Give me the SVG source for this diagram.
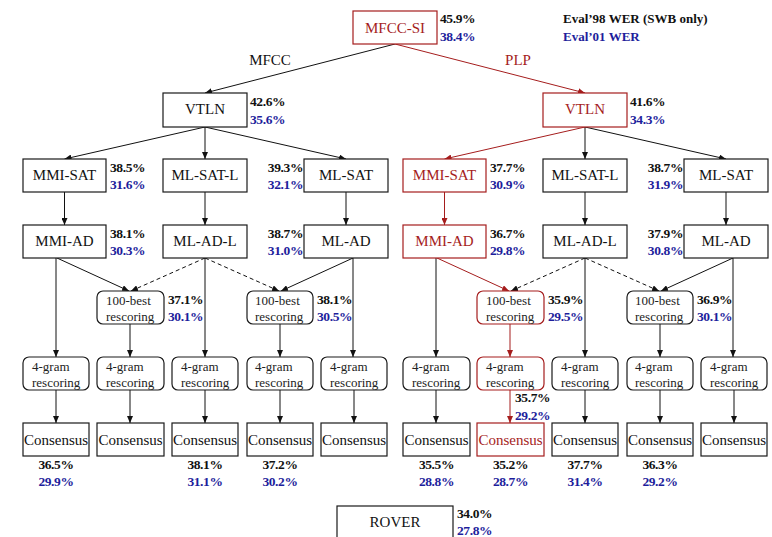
<svg xmlns="http://www.w3.org/2000/svg" width="772" height="537" viewBox="0 0 772 537">
<defs>
<style>
.box{fill:#fff;stroke:#1a1a1a;stroke-width:1.2}
.red{stroke:#a51d1d}
.t{font-family:"Liberation Serif","Times New Roman",serif;font-size:15px;fill:#111;text-anchor:middle}
.tr{fill:#a51d1d}
.s{font-family:"Liberation Serif","Times New Roman",serif;font-size:13px;fill:#222}
.p{font-family:"Liberation Serif","Times New Roman",serif;font-weight:bold;font-size:13.5px;letter-spacing:-0.4px;fill:#111}
.lg{font-family:"Liberation Serif","Times New Roman",serif;font-weight:bold;font-size:13px;fill:#111}
.b{fill:#1e1e9c}
.m{text-anchor:middle}
.en{text-anchor:end}
.e{stroke:#111;stroke-width:1;fill:none;marker-end:url(#ah)}
.er{stroke:#a51d1d;stroke-width:1;fill:none;marker-end:url(#ahr)}
.d{stroke-dasharray:4 3}
</style>
<marker id="ah" markerUnits="userSpaceOnUse" markerWidth="7" markerHeight="6" refX="7" refY="3" orient="auto"><path d="M0,0 L7,3 L0,6 z" fill="#111"/></marker>
<marker id="ahr" markerUnits="userSpaceOnUse" markerWidth="7" markerHeight="6" refX="7" refY="3" orient="auto"><path d="M0,0 L7,3 L0,6 z" fill="#a51d1d"/></marker>
</defs>
<rect width="772" height="537" fill="#fff"/>

<g id="connectors">
<line class="e" x1="395" y1="44" x2="205" y2="93"/>
<line class="er" x1="395" y1="44" x2="585" y2="93"/>
<text class="t" x="270" y="65" font-size="14.5">MFCC</text>
<text class="t tr" x="518" y="65" font-size="14.5">PLP</text>

<line class="e" x1="205" y1="127" x2="64.5" y2="159"/>
<line class="e" x1="205" y1="127" x2="205" y2="159"/>
<line class="e" x1="205" y1="127" x2="346" y2="159"/>
<line class="er" x1="585" y1="127" x2="444.5" y2="159"/>
<line class="e" x1="585" y1="127" x2="585" y2="159"/>
<line class="e" x1="585" y1="127" x2="726" y2="159"/>

<line class="e" x1="64.5" y1="192" x2="64.5" y2="225"/>
<line class="e" x1="205" y1="192" x2="205" y2="225"/>
<line class="e" x1="346" y1="192" x2="346" y2="225"/>
<line class="er" x1="444.5" y1="192" x2="444.5" y2="225"/>
<line class="e" x1="585" y1="192" x2="585" y2="225"/>
<line class="e" x1="726" y1="192" x2="726" y2="225"/>

<line class="e" x1="56" y1="258" x2="56" y2="357"/>
<line class="e" x1="57" y1="258" x2="129" y2="291"/>
<line class="e d" x1="205" y1="258" x2="131" y2="291"/>
<line class="e" x1="205" y1="258" x2="205" y2="357"/>
<line class="e d" x1="205" y1="258" x2="279" y2="291"/>
<line class="e" x1="353" y1="258" x2="281" y2="291"/>
<line class="e" x1="353" y1="258" x2="353" y2="357"/>

<line class="e" x1="436" y1="258" x2="436" y2="357"/>
<line class="er" x1="437" y1="258" x2="509" y2="291"/>
<line class="e d" x1="585" y1="258" x2="511" y2="291"/>
<line class="e" x1="585" y1="258" x2="585" y2="357"/>
<line class="e d" x1="585" y1="258" x2="659" y2="291"/>
<line class="e" x1="733" y1="258" x2="661" y2="291"/>
<line class="e" x1="733" y1="258" x2="733" y2="357"/>

<line class="e" x1="130" y1="324" x2="130" y2="357"/>
<line class="e" x1="280" y1="324" x2="280" y2="357"/>
<line class="er" x1="510" y1="324" x2="510" y2="357"/>
<line class="e" x1="660" y1="324" x2="660" y2="357"/>

<line class="e" x1="56" y1="390" x2="56" y2="423"/>
<line class="e" x1="130" y1="390" x2="130" y2="423"/>
<line class="e" x1="205" y1="390" x2="205" y2="423"/>
<line class="e" x1="280" y1="390" x2="280" y2="423"/>
<line class="e" x1="354" y1="390" x2="354" y2="423"/>
<line class="e" x1="436" y1="390" x2="436" y2="423"/>
<line class="er" x1="510" y1="390" x2="510" y2="423"/>
<line class="e" x1="585" y1="390" x2="585" y2="423"/>
<line class="e" x1="660" y1="390" x2="660" y2="423"/>
<line class="e" x1="734" y1="390" x2="734" y2="423"/>
<text class="p" x="515" y="402">35.7%</text>
<text class="p b" x="515" y="420">29.2%</text>
</g>

<g id="legend">
<text class="lg" x="563" y="23">Eval’98 WER (SWB only)</text>
<text class="lg b" x="563" y="41">Eval’01 WER</text>
</g>

<g id="mfcc-si">
<rect class="box red" x="353" y="11" width="84" height="33"/>
<text class="t tr" x="395" y="33">MFCC-SI</text>
<text class="p" x="440" y="23">45.9%</text>
<text class="p b" x="440" y="41">38.4%</text>
</g>

<g id="vtln-mfcc">
<rect class="box" x="163" y="93" width="84" height="34"/>
<text class="t" x="205" y="114">VTLN</text>
<text class="p" x="250" y="106">42.6%</text>
<text class="p b" x="250" y="124">35.6%</text>
</g>
<g id="vtln-plp">
<rect class="box red" x="543" y="93" width="84" height="34"/>
<text class="t tr" x="585" y="114">VTLN</text>
<text class="p" x="630" y="106">41.6%</text>
<text class="p b" x="630" y="124">34.3%</text>
</g>

<g id="mmi-sat-1">
<rect class="box" x="23" y="159" width="83" height="33"/>
<text class="t" x="64.5" y="180">MMI-SAT</text>
<text class="p" x="110" y="172">38.5%</text>
<text class="p b" x="110" y="189">31.6%</text>
</g>
<g id="ml-sat-l-1">
<rect class="box" x="163" y="159" width="84" height="33"/>
<text class="t" x="205" y="180">ML-SAT-L</text>
</g>
<g id="ml-sat-1">
<rect class="box" x="304" y="159" width="84" height="33"/>
<text class="t" x="346" y="180">ML-SAT</text>
<text class="p en" x="303" y="172">39.3%</text>
<text class="p b en" x="303" y="189">32.1%</text>
</g>
<g id="mmi-sat-2">
<rect class="box red" x="403" y="159" width="83" height="33"/>
<text class="t tr" x="444.5" y="180">MMI-SAT</text>
<text class="p" x="490" y="172">37.7%</text>
<text class="p b" x="490" y="189">30.9%</text>
</g>
<g id="ml-sat-l-2">
<rect class="box" x="543" y="159" width="84" height="33"/>
<text class="t" x="585" y="180">ML-SAT-L</text>
</g>
<g id="ml-sat-2">
<rect class="box" x="684" y="159" width="84" height="33"/>
<text class="t" x="726" y="180">ML-SAT</text>
<text class="p en" x="683" y="172">38.7%</text>
<text class="p b en" x="683" y="189">31.9%</text>
</g>

<g id="mmi-ad-1">
<rect class="box" x="23" y="225" width="83" height="33"/>
<text class="t" x="64.5" y="246">MMI-AD</text>
<text class="p" x="110" y="238">38.1%</text>
<text class="p b" x="110" y="255">30.3%</text>
</g>
<g id="ml-ad-l-1">
<rect class="box" x="163" y="225" width="84" height="33"/>
<text class="t" x="205" y="246">ML-AD-L</text>
</g>
<g id="ml-ad-1">
<rect class="box" x="304" y="225" width="84" height="33"/>
<text class="t" x="346" y="246">ML-AD</text>
<text class="p en" x="303" y="238">38.7%</text>
<text class="p b en" x="303" y="255">31.0%</text>
</g>
<g id="mmi-ad-2">
<rect class="box red" x="403" y="225" width="83" height="33"/>
<text class="t tr" x="444.5" y="246">MMI-AD</text>
<text class="p" x="490" y="238">36.7%</text>
<text class="p b" x="490" y="255">29.8%</text>
</g>
<g id="ml-ad-l-2">
<rect class="box" x="543" y="225" width="84" height="33"/>
<text class="t" x="585" y="246">ML-AD-L</text>
</g>
<g id="ml-ad-2">
<rect class="box" x="684" y="225" width="84" height="33"/>
<text class="t" x="726" y="246">ML-AD</text>
<text class="p en" x="683" y="238">37.9%</text>
<text class="p b en" x="683" y="255">30.8%</text>
</g>

<g id="nbest-1">
<rect class="box" x="97" y="291" width="67" height="33" rx="6"/>
<text class="s" x="106" y="305">100-best</text>
<text class="s" x="106" y="321">rescoring</text>
<text class="p" x="168" y="304">37.1%</text>
<text class="p b" x="168" y="321">30.1%</text>
</g>
<g id="nbest-2">
<rect class="box" x="247" y="291" width="66" height="33" rx="6"/>
<text class="s" x="255" y="305">100-best</text>
<text class="s" x="255" y="321">rescoring</text>
<text class="p" x="317" y="304">38.1%</text>
<text class="p b" x="317" y="321">30.5%</text>
</g>
<g id="nbest-3">
<rect class="box red" x="477" y="291" width="67" height="33" rx="6"/>
<text class="s tr" x="486" y="305">100-best</text>
<text class="s tr" x="486" y="321">rescoring</text>
<text class="p" x="548" y="304">35.9%</text>
<text class="p b" x="548" y="321">29.5%</text>
</g>
<g id="nbest-4">
<rect class="box" x="627" y="291" width="66" height="33" rx="6"/>
<text class="s" x="635" y="305">100-best</text>
<text class="s" x="635" y="321">rescoring</text>
<text class="p" x="697" y="304">36.9%</text>
<text class="p b" x="697" y="321">30.1%</text>
</g>

<g id="fourgram-1"><rect class="box" x="23" y="357" width="66" height="33" rx="6"/><text class="s" x="32" y="371">4-gram</text><text class="s" x="32" y="387">rescoring</text></g>
<g id="fourgram-2"><rect class="box" x="97" y="357" width="67" height="33" rx="6"/><text class="s" x="106" y="371">4-gram</text><text class="s" x="106" y="387">rescoring</text></g>
<g id="fourgram-3"><rect class="box" x="172" y="357" width="66" height="33" rx="6"/><text class="s" x="181" y="371">4-gram</text><text class="s" x="181" y="387">rescoring</text></g>
<g id="fourgram-4"><rect class="box" x="247" y="357" width="66" height="33" rx="6"/><text class="s" x="255" y="371">4-gram</text><text class="s" x="255" y="387">rescoring</text></g>
<g id="fourgram-5"><rect class="box" x="321" y="357" width="66" height="33" rx="6"/><text class="s" x="330" y="371">4-gram</text><text class="s" x="330" y="387">rescoring</text></g>
<g id="fourgram-6"><rect class="box" x="403" y="357" width="67" height="33" rx="6"/><text class="s" x="412" y="371">4-gram</text><text class="s" x="412" y="387">rescoring</text></g>
<g id="fourgram-7"><rect class="box red" x="477" y="357" width="67" height="33" rx="6"/><text class="s tr" x="486" y="371">4-gram</text><text class="s tr" x="486" y="387">rescoring</text></g>
<g id="fourgram-8"><rect class="box" x="552" y="357" width="66" height="33" rx="6"/><text class="s" x="561" y="371">4-gram</text><text class="s" x="561" y="387">rescoring</text></g>
<g id="fourgram-9"><rect class="box" x="627" y="357" width="66" height="33" rx="6"/><text class="s" x="635" y="371">4-gram</text><text class="s" x="635" y="387">rescoring</text></g>
<g id="fourgram-10"><rect class="box" x="701" y="357" width="66" height="33" rx="6"/><text class="s" x="710" y="371">4-gram</text><text class="s" x="710" y="387">rescoring</text></g>

<g id="consensus-1"><rect class="box" x="23" y="423" width="66" height="33"/><text class="t" x="56" y="445">Consensus</text>
<text class="p m" x="56" y="469">36.5%</text><text class="p b m" x="56" y="486">29.9%</text></g>
<g id="consensus-2"><rect class="box" x="97" y="423" width="67" height="33"/><text class="t" x="130.5" y="445">Consensus</text></g>
<g id="consensus-3"><rect class="box" x="172" y="423" width="66" height="33"/><text class="t" x="205" y="445">Consensus</text>
<text class="p m" x="205" y="469">38.1%</text><text class="p b m" x="205" y="486">31.1%</text></g>
<g id="consensus-4"><rect class="box" x="247" y="423" width="66" height="33"/><text class="t" x="280" y="445">Consensus</text>
<text class="p m" x="280" y="469">37.2%</text><text class="p b m" x="280" y="486">30.2%</text></g>
<g id="consensus-5"><rect class="box" x="321" y="423" width="66" height="33"/><text class="t" x="354" y="445">Consensus</text></g>
<g id="consensus-6"><rect class="box" x="403" y="423" width="67" height="33"/><text class="t" x="436.5" y="445">Consensus</text>
<text class="p m" x="436.5" y="469">35.5%</text><text class="p b m" x="436.5" y="486">28.8%</text></g>
<g id="consensus-7"><rect class="box red" x="477" y="423" width="67" height="33"/><text class="t tr" x="510.5" y="445">Consensus</text>
<text class="p m" x="510.5" y="469">35.2%</text><text class="p b m" x="510.5" y="486">28.7%</text></g>
<g id="consensus-8"><rect class="box" x="552" y="423" width="66" height="33"/><text class="t" x="585" y="445">Consensus</text>
<text class="p m" x="585" y="469">37.7%</text><text class="p b m" x="585" y="486">31.4%</text></g>
<g id="consensus-9"><rect class="box" x="627" y="423" width="66" height="33"/><text class="t" x="660" y="445">Consensus</text>
<text class="p m" x="660" y="469">36.3%</text><text class="p b m" x="660" y="486">29.2%</text></g>
<g id="consensus-10"><rect class="box" x="701" y="423" width="66" height="33"/><text class="t" x="734" y="445">Consensus</text></g>

<g id="rover">
<rect class="box" x="337" y="506" width="116" height="40"/>
<text class="t" x="395" y="527">ROVER</text>
<text class="p" x="457" y="518">34.0%</text>
<text class="p b" x="457" y="535">27.8%</text>
</g>
</svg>
